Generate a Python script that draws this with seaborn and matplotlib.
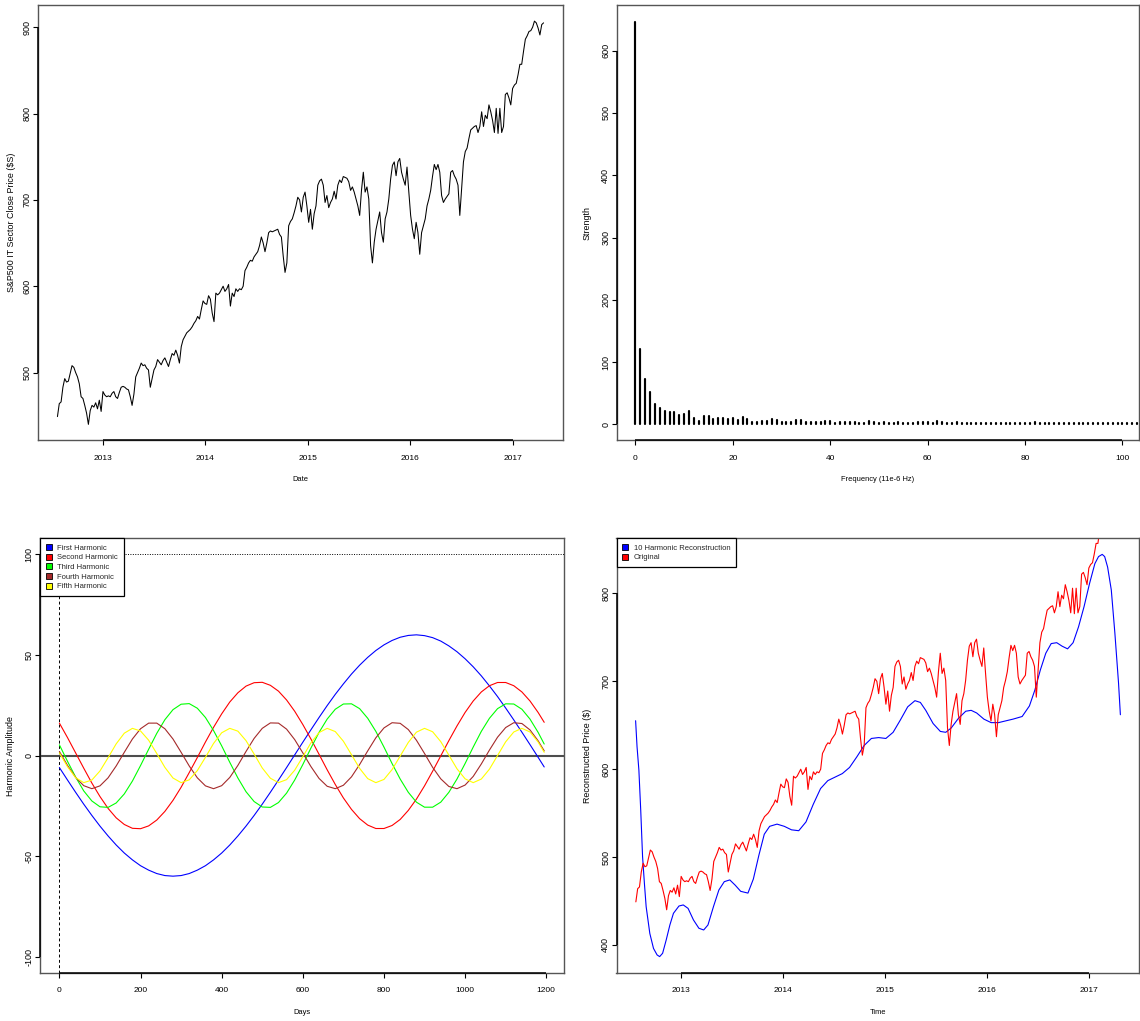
import numpy as np
import pandas as pd
import matplotlib
matplotlib.use("Agg")
import matplotlib.pyplot as plt
import matplotlib.dates as mdates
from matplotlib.patches import Patch
import seaborn as sns

# ---------------------------------------------------------------- data
# S&P500 IT sector close price, sampled roughly every 6-7 days
price_start, price_end = "2012-07-23", "2017-04-19"
price_close = [
    449, 464, 466, 483, 493, 489, 490, 499, 508, 506, 500, 495, 487, 472, 470,
    462, 453, 440, 456, 462, 460, 465, 458, 468, 455, 478, 474, 472, 473, 472,
    476, 478, 472, 470, 477, 483, 484, 483, 481, 480, 472, 462, 475, 495, 500,
    505, 511, 508, 509, 505, 503, 483, 493, 503, 507, 515, 512, 509, 514, 517,
    512, 507, 515, 522, 520, 526, 520, 511, 530, 538, 542, 546, 548, 550, 553,
    557, 560, 565, 562, 573, 583, 580, 579, 589, 585, 569, 559, 592, 590, 592,
    596, 600, 594, 597, 602, 577, 592, 588, 597, 594, 597, 596, 600, 618, 622,
    627, 630, 629, 634, 637, 640, 647, 657, 650, 640, 650, 662, 664, 663, 664,
    665, 666, 660, 657, 635, 616, 627, 670, 675, 678, 685, 693, 703, 700, 686,
    703, 709, 693, 674, 689, 666, 684, 693, 717, 722, 724, 717, 697, 705, 691,
    697, 701, 710, 701, 717, 723, 720, 727, 726, 725, 721, 711, 715, 709, 701,
    693, 682, 711, 732, 709, 715, 701, 647, 627, 651, 666, 676, 686, 662, 651,
    678, 686, 701, 724, 740, 744, 728, 744, 748, 732, 724, 717, 738, 709, 682,
    666, 655, 674, 662, 637, 662, 670, 678, 693, 701, 711, 727, 741, 735, 741,
    732, 705, 697, 701, 704, 707, 732, 734, 728, 724, 717, 682, 713, 744, 756,
    760, 771, 781, 783, 785, 786, 778, 785, 802, 785, 798, 794, 810, 802, 792,
    778, 806, 777, 806, 778, 785, 822, 824, 818, 810, 829, 833, 835, 845, 857,
    857, 872, 886, 890, 895, 896, 900, 907, 905, 899, 891, 903, 905,
]

# Fourier spectrum strength per frequency bin (11e-6 Hz)
frequency = list(range(104))
strength = [
    646.6, 121.0, 73.5, 52.5, 33.5, 27.0, 21.0, 19.5, 19.5, 15.5, 16.5, 21.0,
    10.0, 5.5, 13.5, 13.5, 8.5, 9.5, 9.5, 8.5, 9.5, 6.5, 11.5, 8.0, 4.0, 4.0,
    5.0, 5.0, 8.0, 6.5, 4.0, 4.0, 4.5, 6.5, 6.5, 4.0, 4.0, 3.5, 4.0, 5.0, 5.5,
    3.0, 3.5, 4.0, 3.5, 3.5, 3.0, 2.5, 5.0, 3.5, 2.5, 3.5, 3.0, 3.0, 3.5, 2.5,
    2.5, 3.0, 4.5, 4.5, 3.5, 1.5, 5.0, 4.5, 3.0, 3.0, 4.0, 1.5, 2.0, 2.0, 2.0,
    2.0, 2.0, 2.0, 2.0, 2.0, 2.0, 2.0, 2.0, 2.0, 2.0, 2.5, 4.0, 2.0, 2.0, 2.0,
    2.0, 2.0, 1.5, 2.0, 2.0, 2.0, 2.0, 2.0, 2.0, 2.0, 2.0, 2.0, 2.0, 2.0, 2.0,
    2.0, 2.0, 2.0,
]

# first five harmonic components, sampled every 20 trading days
harm_days = [0, 20, 40, 60, 80, 100, 120, 140, 160, 180, 200, 220, 240, 260,
             280, 300, 320, 340, 360, 380, 400, 420, 440, 460, 480, 500, 520,
             540, 560, 580, 600, 620, 640, 660, 680, 700, 720, 740, 760, 780,
             800, 820, 840, 860, 880, 900, 920, 940, 960, 980, 1000, 1020,
             1040, 1060, 1080, 1100, 1120, 1140, 1160, 1180, 1195]
harm_first = [
    -6.0, -12.2, -18.3, -24.2, -29.8, -35.1, -40.0, -44.5, -48.5, -51.9, -54.8,
    -57.0, -58.7, -59.7, -60.0, -59.7, -58.7, -57.0, -54.8, -51.9, -48.5, -44.5,
    -40.0, -35.1, -29.8, -24.2, -18.3, -12.2, -6.0, 0.3, 6.6, 12.8, 18.9, 24.8,
    30.4, 35.6, 40.5, 44.9, 48.8, 52.2, 55.0, 57.2, 58.8, 59.7, 60.0, 59.6, 58.6,
    56.9, 54.5, 51.6, 48.1, 44.1, 39.6, 34.6, 29.3, 23.6, 17.7, 11.6, 5.4, -0.9,
    -5.7,
]
harm_second = [
    16.1, 8.9, 1.3, -6.3, -13.7, -20.4, -26.3, -31.0, -34.3, -36.2, -36.4, -35.0,
    -32.1, -27.8, -22.3, -15.8, -8.5, -1.0, 6.7, 14.0, 20.7, 26.6, 31.2, 34.5,
    36.2, 36.4, 34.9, 32.0, 27.6, 22.0, 15.4, 8.2, 0.6, -7.1, -14.4, -21.1, -26.8,
    -31.4, -34.6, -36.3, -36.3, -34.8, -31.8, -27.3, -21.7, -15.1, -7.8, -0.2,
    7.4, 14.7, 21.4, 27.1, 31.6, 34.7, 36.3, 36.3, 34.7, 31.6, 27.1, 21.4, 16.5,
]
harm_third = [
    5.3, -2.9, -10.7, -17.6, -22.6, -25.5, -25.8, -23.6, -19.1, -12.7, -5.0, 3.1,
    11.0, 17.8, 22.8, 25.5, 25.8, 23.5, 18.9, 12.4, 4.8, -3.4, -11.2, -18.0,
    -22.9, -25.6, -25.8, -23.4, -18.7, -12.2, -4.5, 3.7, 11.5, 18.1, 23.0, 25.6,
    25.7, 23.3, 18.5, 12.0, 4.2, -4.0, -11.7, -18.3, -23.2, -25.7, -25.7, -23.2,
    -18.3, -11.7, -4.0, 4.2, 12.0, 18.5, 23.3, 25.7, 25.6, 23.0, 18.1, 11.5, 5.7,
]
harm_fourth = [
    2.0, -4.9, -10.9, -15.0, -16.5, -15.1, -11.1, -5.2, 1.6, 8.2, 13.3, 16.1,
    16.1, 13.3, 8.2, 1.6, -5.2, -11.1, -15.1, -16.5, -15.0, -10.9, -4.9, 2.0,
    8.5, 13.5, 16.2, 16.1, 13.1, 7.9, 1.3, -5.5, -11.4, -15.3, -16.5, -14.8,
    -10.6, -4.5, 2.3, 8.8, 13.7, 16.3, 16.0, 12.9, 7.6, 1.0, -5.9, -11.6, -15.4,
    -16.5, -14.7, -10.4, -4.2, 2.7, 9.1, 13.9, 16.3, 15.9, 12.7, 7.3, 2.3,
]
harm_fifth = [
    1.3, -5.6, -11.0, -13.5, -12.2, -7.7, -1.1, 5.8, 11.1, 13.5, 12.2, 7.6, 1.0,
    -5.9, -11.2, -13.5, -12.1, -7.5, -0.9, 6.0, 11.3, 13.5, 12.1, 7.4, 0.7, -6.2,
    -11.3, -13.5, -12.0, -7.3, -0.6, 6.3, 11.4, 13.5, 11.9, 7.1, 0.4, -6.4,
    -11.5, -13.5, -11.9, -7.0, -0.3, 6.5, 11.6, 13.5, 11.8, 6.9, 0.2, -6.6,
    -11.6, -13.5, -11.7, -6.8, 0.0, 6.8, 11.7, 13.5, 11.7, 6.7, 1.6,
]
harm_names = ["First Harmonic", "Second Harmonic", "Third Harmonic",
              "Fourth Harmonic", "Fifth Harmonic"]
harm_colors = ["#0000FF", "#FF0000", "#00FF00", "#A52A2A", "#FFFF00"]

# 10-harmonic reconstruction (decimal year, price)
recon_year = [
    2012.555, 2012.569, 2012.587, 2012.605, 2012.623, 2012.641, 2012.658,
    2012.694, 2012.730, 2012.765, 2012.790, 2012.819, 2012.854, 2012.890,
    2012.925, 2012.979, 2013.021, 2013.068, 2013.121, 2013.174, 2013.221,
    2013.263, 2013.317, 2013.370, 2013.423, 2013.477, 2013.530, 2013.584,
    2013.655, 2013.708, 2013.762, 2013.815, 2013.868, 2013.940, 2014.011,
    2014.082, 2014.153, 2014.224, 2014.295, 2014.367, 2014.438, 2014.509,
    2014.580, 2014.651, 2014.722, 2014.794, 2014.865, 2014.936, 2015.007,
    2015.078, 2015.149, 2015.221, 2015.292, 2015.345, 2015.398, 2015.470,
    2015.541, 2015.594, 2015.648, 2015.719, 2015.790, 2015.843, 2015.897,
    2015.968, 2016.039, 2016.110, 2016.181, 2016.253, 2016.342, 2016.413,
    2016.466, 2016.520, 2016.573, 2016.626, 2016.680, 2016.733, 2016.786,
    2016.840, 2016.893, 2016.947, 2017.000, 2017.053, 2017.089, 2017.125,
    2017.149, 2017.178, 2017.214, 2017.249, 2017.285, 2017.303,
]
recon_price = [
    655.2, 625.6, 599.0, 553.5, 500.5, 470.0, 443.6, 413.0, 396.0, 388.6, 386.7,
    390.5, 405.6, 422.7, 436.0, 444.3, 445.5, 441.6, 428.4, 419.0, 417.0, 422.7,
    443.6, 462.5, 472.0, 474.0, 468.0, 461.0, 459.0, 475.0, 502.0, 526.0, 535.0,
    537.5, 535.0, 531.0, 530.0, 540.0, 560.0, 578.0, 587.0, 591.0, 595.0, 602.0,
    614.0, 627.0, 635.0, 636.0, 635.0, 642.0, 656.0, 671.0, 678.0, 676.0, 667.0,
    652.0, 643.0, 642.0, 647.0, 658.0, 666.0, 667.0, 664.0, 657.0, 653.0, 653.0,
    655.0, 657.0, 660.0, 672.0, 690.0, 713.0, 732.0, 743.0, 744.0, 740.0, 737.0,
    744.0, 762.0, 785.0, 811.0, 834.0, 842.0, 844.5, 842.0, 830.0, 804.0, 755.0,
    698.0, 662.0,
]

year_ticks = [2013, 2014, 2015, 2016, 2017]

# ---------------------------------------------------------------- helpers
def year_to_date(y):
    whole = int(y)
    start = pd.Timestamp(year=whole, month=1, day=1)
    length = (pd.Timestamp(year=whole + 1, month=1, day=1) - start).days
    return start + pd.Timedelta(days=(y - whole) * length)


def r_range(lo, hi):
    pad = 0.04 * (hi - lo)
    return lo - pad, hi + pad


price_df = pd.DataFrame({
    "date": pd.date_range(price_start, price_end, periods=len(price_close)),
    "close": price_close,
})
recon_df = pd.DataFrame({
    "date": [year_to_date(y) for y in recon_year],
    "price": recon_price,
})
harm_df = pd.concat([
    pd.DataFrame({"day": harm_days, "amp": vals, "harmonic": name})
    for name, vals in zip(harm_names,
                          [harm_first, harm_second, harm_third, harm_fourth, harm_fifth])
])

# ---------------------------------------------------------------- style
sns.set_theme(style="white")
plt.rcParams["font.family"] = ["Liberation Sans", "DejaVu Sans"]
plt.rcParams["axes.unicode_minus"] = False

W, H = 1140, 1021
fig = plt.figure(figsize=(W / 100, H / 100), dpi=100)
fig.patch.set_facecolor("white")


def panel(left, top, right, bottom):
    return fig.add_axes([left / W, 1 - bottom / H, (right - left) / W, (bottom - top) / H])


def r_style(ax, xticks, xlabels, yticks, ylabels, xlabel, ylabel, ylab_off=28):
    ax.set_xlabel("")
    ax.set_ylabel("")
    ax.set_facecolor("white")
    for s in ax.spines.values():
        s.set_visible(True)
        s.set_color("#555555")
        s.set_linewidth(1.0)
    ax.set_xticks(xticks)
    ax.set_xticklabels(xlabels, fontsize=6)
    ax.set_yticks(yticks)
    ax.set_yticklabels(ylabels, fontsize=6.5, rotation=90, va="center")
    ax.tick_params(axis="x", direction="out", length=3.3, width=0.8,
                   color="black", pad=6.8, bottom=True, labelcolor="black")
    ax.tick_params(axis="y", direction="out", length=3.3, width=0.8,
                   color="black", pad=1.2, left=True, labelcolor="black")
    ax.grid(False)
    pos = ax.get_position()
    w_px, h_px = pos.width * W, pos.height * H
    ax.text(0.5, -39.3 / h_px, xlabel, transform=ax.transAxes,
            ha="center", va="center", fontsize=5.4, color="black")
    ax.text(-ylab_off / w_px, 0.5, ylabel, transform=ax.transAxes, rotation=90,
            ha="center", va="center", fontsize=6.4, color="black")
    # axis lines running from first to last tick
    ax.plot([xticks[0], xticks[-1]], [0, 0], transform=ax.get_xaxis_transform(),
            color="black", lw=1.1, clip_on=False, solid_capstyle="butt", zorder=5)
    ax.plot([0, 0], [yticks[0], yticks[-1]], transform=ax.get_yaxis_transform(),
            color="black", lw=1.1, clip_on=False, solid_capstyle="butt", zorder=5)


date_lo, date_hi = price_df["date"].min(), price_df["date"].max()
span = date_hi - date_lo
date_xlim = (date_lo - 0.04 * span, date_hi + 0.04 * span)
date_ticks = [mdates.date2num(pd.Timestamp(year=y, month=1, day=1)) for y in year_ticks]
date_labels = [str(y) for y in year_ticks]

# ---------------------------------------------------------------- top left: price
ax1 = panel(38, 5, 563, 440.5)
sns.lineplot(data=price_df, x="date", y="close", color="black", lw=0.75,
             estimator=None, ax=ax1)
ax1.set_xlim(date_xlim)
ax1.set_ylim(*r_range(min(price_close), max(price_close)))
r_style(ax1, date_ticks, date_labels, [500, 600, 700, 800, 900],
        ["500", "600", "700", "800", "900"], "Date",
        "S&P500 IT Sector Close Price ($S)", ylab_off=26)

# ---------------------------------------------------------------- top right: spectrum
ax2 = panel(616.5, 5.5, 1139, 440.5)
ax2.vlines(frequency, 0, strength, colors="black", linewidth=1.55, capstyle="round")
ax2.set_xlim(-3.9, 103.4)
ax2.set_ylim(*r_range(0, max(strength)))
r_style(ax2, [0, 20, 40, 60, 80, 100], ["0", "20", "40", "60", "80", "100"],
        [0, 100, 200, 300, 400, 500, 600],
        ["0", "100", "200", "300", "400", "500", "600"],
        "Frequency (11e-6 Hz)", "Strength", ylab_off=29)

# ---------------------------------------------------------------- bottom left: harmonics
ax3 = panel(40, 538.3, 563.6, 972.7)
ax3.axhline(0, color="#4d4d4d", lw=1.5, zorder=1)
ax3.axhline(100, color="black", lw=0.7, ls=(0, (1, 1.5)), zorder=1)
ax3.axvline(0, color="black", lw=0.7, ls=(0, (3, 2.5)), zorder=1)
sns.lineplot(data=harm_df, x="day", y="amp", hue="harmonic",
             palette=dict(zip(harm_names, harm_colors)), hue_order=harm_names,
             lw=0.8, estimator=None, sort=False, legend=False, ax=ax3, zorder=2)
ax3.set_xlim(*r_range(min(harm_days), max(harm_days)))
ax3.set_ylim(-108, 108)
r_style(ax3, [0, 200, 400, 600, 800, 1000, 1200],
        ["0", "200", "400", "600", "800", "1000", "1200"],
        [-100, -50, 0, 50, 100], ["-100", "-50", "0", "50", "100"],
        "Days", "Harmonic Amplitude", ylab_off=29)
leg3 = ax3.legend(
    handles=[Patch(facecolor=c, edgecolor="black", linewidth=0.6, label=n)
             for n, c in zip(harm_names, harm_colors)],
    loc="upper left", bbox_to_anchor=(0, 1), borderaxespad=0, frameon=True,
    fancybox=False, edgecolor="black", framealpha=1, fontsize=5.5,
    handlelength=0.8, handleheight=0.8, handletextpad=0.7, labelspacing=0.28,
    borderpad=0.75)
leg3.get_frame().set_linewidth(0.9)
leg3.set_zorder(10)

# ---------------------------------------------------------------- bottom right: reconstruction
ax4 = panel(616.5, 538.3, 1139, 972.7)
sns.lineplot(data=recon_df, x="date", y="price", color="#0000FF", lw=0.8,
             estimator=None, sort=False, ax=ax4)
sns.lineplot(data=price_df, x="date", y="close", color="#FF0000", lw=0.8,
             estimator=None, ax=ax4)
ax4.set_xlim(date_xlim)
ax4.set_ylim(*r_range(min(recon_price), max(recon_price)))
r_style(ax4, date_ticks, date_labels, [400, 500, 600, 700, 800],
        ["400", "500", "600", "700", "800"], "Time",
        "Reconstructed Price ($)", ylab_off=29)
leg4 = ax4.legend(
    handles=[Patch(facecolor="#0000FF", edgecolor="black", linewidth=0.6,
                   label="10 Harmonic Reconstruction"),
             Patch(facecolor="#FF0000", edgecolor="black", linewidth=0.6,
                   label="Original")],
    loc="upper left", bbox_to_anchor=(0, 1), borderaxespad=0, frameon=True,
    fancybox=False, edgecolor="black", framealpha=1, fontsize=5.5,
    handlelength=0.8, handleheight=0.8, handletextpad=0.7, labelspacing=0.28,
    borderpad=0.75)
leg4.get_frame().set_linewidth(0.9)
leg4.set_zorder(10)

fig.savefig("out.png", dpi=100, facecolor="white")
